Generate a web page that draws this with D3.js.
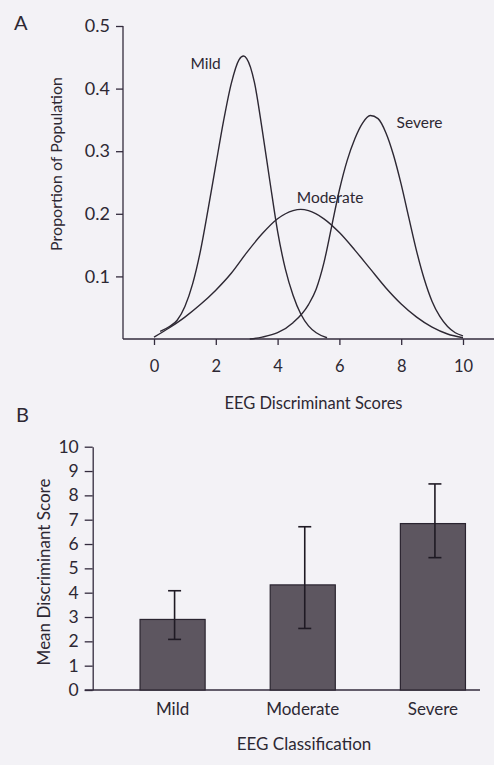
<!DOCTYPE html>
<html>
<head>
<meta charset="utf-8">
<script src="https://cdn.jsdelivr.net/npm/d3@7/dist/d3.min.js"></script>
<style>
  body { margin: 0; background: #f3f2f6; }
  svg { display: block; }
  svg text { font-family: Lato, "Noto Sans", sans-serif; fill: #2d2833; }
  .axis text { font-size: 16.5px; }
  .axis path, .axis line { stroke: #332b3d; stroke-width: 1.3; }
</style>
</head>
<body>
<div id="chart"></div>
<script>
// Panel A data: scores (x, proportion)
var mildX = [0.2, 0.5, 0.75, 1, 1.25, 1.5, 1.75, 2, 2.25, 2.5, 2.75, 2.9, 3, 3.25, 3.5, 3.75, 4, 4.25, 4.5, 4.75, 5, 5.25, 5.6];
var mildY = [0.012, 0.02, 0.03, 0.052, 0.088, 0.14, 0.207, 0.278, 0.348, 0.408, 0.446, 0.452, 0.448, 0.41, 0.335, 0.252, 0.172, 0.112, 0.07, 0.04, 0.021, 0.01, 0.002];

var moderateX = [0, 0.5, 1, 1.5, 2, 2.5, 3, 3.5, 4, 4.5, 4.75, 5, 5.5, 6, 6.5, 7, 7.5, 8, 8.5, 9, 9.5, 10];
var moderateY = [0.003, 0.018, 0.035, 0.055, 0.078, 0.105, 0.138, 0.168, 0.192, 0.205, 0.207, 0.205, 0.192, 0.17, 0.142, 0.112, 0.082, 0.056, 0.035, 0.019, 0.008, 0.002];

var severeX = [3.1, 3.5, 4, 4.5, 5, 5.25, 5.5, 5.75, 6, 6.25, 6.5, 6.75, 7, 7.25, 7.5, 7.75, 8, 8.25, 8.5, 8.75, 9, 9.25, 9.5, 9.75, 10];
var severeY = [0, 0.003, 0.01, 0.026, 0.055, 0.08, 0.122, 0.18, 0.238, 0.285, 0.32, 0.345, 0.357, 0.352, 0.33, 0.294, 0.247, 0.193, 0.14, 0.095, 0.06, 0.036, 0.02, 0.01, 0.005];

var curveNames = ["Mild", "Moderate", "Severe"];
var scoreTicks = [0, 2, 4, 6, 8, 10];
var proportionTicks = [0.1, 0.2, 0.3, 0.4, 0.5];

// Panel B data
var categories = ["Mild", "Moderate", "Severe"];
var meanScores = [2.9, 4.32, 6.84];
var errLow = [2.08, 2.53, 5.44];
var errHigh = [4.08, 6.71, 8.47];
var meanTicks = [0, 1, 2, 3, 4, 5, 6, 7, 8, 9, 10];

var svgWidth = 494;
var svgHeight = 765;

var svg = d3.select("#chart")
  .append("svg")
  .attr("width", svgWidth)
  .attr("height", svgHeight);

var ink = "#2d2833";

// ---------------- Panel A ----------------
var marginA = { top: 26, left: 123, bottom: 339 };

var xA = d3.scaleLinear().domain([0, 10]).range([154, 463]);
var yA = d3.scaleLinear().domain([0, 0.5]).range([marginA.bottom, marginA.top]);

// baseline
svg.append("line")
  .attr("x1", marginA.left).attr("x2", svgWidth)
  .attr("y1", yA(0)).attr("y2", yA(0))
  .attr("stroke", "#332b3d").attr("stroke-width", 1.3);

var axA = svg.append("g")
  .attr("class", "axis")
  .attr("transform", `translate(0, ${yA(0)})`)
  .call(d3.axisBottom(xA).tickValues(scoreTicks).tickSize(6).tickPadding(15));
axA.select(".domain").remove();

var ayA = svg.append("g")
  .attr("class", "axis")
  .attr("transform", `translate(${marginA.left}, 0)`)
  .call(d3.axisLeft(yA).tickValues(proportionTicks).tickSize(7).tickSizeOuter(0)
    .tickFormat(d3.format(".1f")).tickPadding(6));
ayA.select(".domain").attr("d", `M0,${yA(0)}V${yA(0.5)}`);
ayA.selectAll("text").style("font-size", "18px");

var line = d3.line()
  .x(d => xA(d[0]))
  .y(d => yA(d[1]))
  .curve(d3.curveMonotoneX);

var curves = [
  d3.zip(mildX, mildY),
  d3.zip(moderateX, moderateY),
  d3.zip(severeX, severeY)
];

svg.selectAll(".dist")
  .data(curves)
  .enter()
  .append("path")
  .attr("class", "dist")
  .attr("d", line)
  .attr("fill", "none")
  .attr("stroke", ink)
  .attr("stroke-width", 1.4);

// curve labels
var curveLabelPos = [[1.18, 0.431], [4.62, 0.218], [7.85, 0.337]];
svg.selectAll(".clabel")
  .data(curveNames)
  .enter()
  .append("text")
  .attr("x", (d, i) => xA(curveLabelPos[i][0]))
  .attr("y", (d, i) => yA(curveLabelPos[i][1]))
  .attr("font-size", 15.5)
  .text(d => d);

svg.append("text")
  .attr("transform", `translate(62, 164) rotate(-90)`)
  .attr("text-anchor", "middle")
  .attr("font-size", 16)
  .text("Proportion of Population");

svg.append("text")
  .attr("x", xA(5.16)).attr("y", 409)
  .attr("text-anchor", "middle")
  .attr("font-size", 16.5)
  .text("EEG Discriminant Scores");

svg.append("text")
  .attr("x", 14).attr("y", 30)
  .attr("font-size", 20)
  .text("A");

// ---------------- Panel B ----------------
var marginB = { top: 446.7, left: 92.7, bottom: 690 };

var yB = d3.scaleLinear().domain([0, 10]).range([marginB.bottom, marginB.top]);
var xB = d3.scaleBand()
  .domain(categories)
  .range([107.5, 498])
  .paddingInner(0.5)
  .paddingOuter(0.25);

svg.append("line")
  .attr("x1", marginB.left - 8).attr("x2", 480)
  .attr("y1", yB(0)).attr("y2", yB(0))
  .attr("stroke", "#332b3d").attr("stroke-width", 1.3);

svg.append("g")
  .attr("class", "axis")
  .attr("transform", `translate(${marginB.left}, 0)`)
  .call(d3.axisLeft(yB).tickValues(meanTicks).tickSize(8).tickSizeOuter(0).tickPadding(6))
  .selectAll("text").style("font-size", "17.5px");

svg.selectAll(".bar")
  .data(meanScores)
  .enter()
  .append("rect")
  .attr("class", "bar")
  .attr("x", (d, i) => xB(categories[i]))
  .attr("width", xB.bandwidth())
  .attr("y", d => yB(d))
  .attr("height", d => yB(0) - yB(d))
  .attr("fill", "#5d5660")
  .attr("stroke", "#2a2430")
  .attr("stroke-width", 1.2);

// error bars
var errGroup = svg.selectAll(".err")
  .data(categories)
  .enter()
  .append("g")
  .attr("class", "err")
  .attr("transform", d => `translate(${xB(d) + xB.bandwidth() / 2 + 2}, 0)`);

errGroup.append("line")
  .attr("y1", (d, i) => yB(errLow[i]))
  .attr("y2", (d, i) => yB(errHigh[i]))
  .attr("stroke", "#1f1a24").attr("stroke-width", 1.6);
errGroup.append("line")
  .attr("x1", -6.5).attr("x2", 6.5)
  .attr("y1", (d, i) => yB(errHigh[i])).attr("y2", (d, i) => yB(errHigh[i]))
  .attr("stroke", "#1f1a24").attr("stroke-width", 1.6);
errGroup.append("line")
  .attr("x1", -6.5).attr("x2", 6.5)
  .attr("y1", (d, i) => yB(errLow[i])).attr("y2", (d, i) => yB(errLow[i]))
  .attr("stroke", "#1f1a24").attr("stroke-width", 1.6);

svg.selectAll(".catlabel")
  .data(categories)
  .enter()
  .append("text")
  .attr("x", d => xB(d) + xB.bandwidth() / 2)
  .attr("y", 715)
  .attr("text-anchor", "middle")
  .attr("font-size", 17)
  .text(d => d);

svg.append("text")
  .attr("x", 304).attr("y", 750)
  .attr("text-anchor", "middle")
  .attr("font-size", 17)
  .text("EEG Classification");

svg.append("text")
  .attr("transform", `translate(50, 572) rotate(-90)`)
  .attr("text-anchor", "middle")
  .attr("font-size", 17)
  .text("Mean Discriminant Score");

svg.append("text")
  .attr("x", 16).attr("y", 422)
  .attr("font-size", 20)
  .text("B");
</script>
</body>
</html>
